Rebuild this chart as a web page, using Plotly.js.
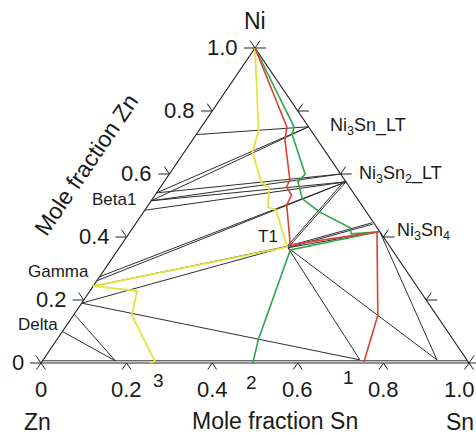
<!DOCTYPE html>
<html><head><meta charset="utf-8">
<script src="https://cdn.plot.ly/plotly-3.0.1.min.js"></script>
<style>html,body{margin:0;padding:0;background:#fff}#chart{width:476px;height:435px}</style>
</head><body><div id="chart"></div>
<script>
// Compositions given as [mole fraction Sn, mole fraction Ni]
const edgeSn = [0, 1, 0, 0];
const edgeNi = [0, 0, 1, 0];

const tickVals = [0, 0.2, 0.4, 0.6, 0.8, 1.0];
const tickText = ["0", "0.2", "0.4", "0.6", "0.8", "1.0"];

// tie lines: start (Sn, Ni) -> end (Sn, Ni)
const tieSnA = [0, 0, 0, 0, 0, 0, 0, 0, 0, 0, 0, 0, 0, 0, 0, 0.39, 0.394, 0.39, 0.394, 0.394, 0.394, 0.394, 0.583];
const tieNiA = [0.725, 0.54, 0.515, 0.54, 0.515, 0.515, 0.485, 0.274, 0.261, 0.244, 0.19, 0.19, 0.155, 0.10, 0.007, 0.37, 0.366, 0.37, 0.366, 0.366, 0.366, 0.366, 0.417];
const tieSnB = [0.25, 0.25, 0.25, 0.40, 0.40, 0.425, 0.425, 0.425, 0.425, 0.39, 0.39, 0.74, 0.17, 0.17, 0.993, 0.42, 0.425, 0.551, 0.555, 0.583, 0.74, 0.92, 0.92];
const tieNiB = [0.75, 0.75, 0.75, 0.60, 0.60, 0.575, 0.575, 0.575, 0.575, 0.37, 0.37, 0.01, 0.007, 0.007, 0.007, 0.578, 0.575, 0.445, 0.441, 0.417, 0.01, 0.01, 0.01];

// diffusion paths
const path3Sn = [0, 0.140, 0.159, 0.227, 0.255, 0.283, 0.306, 0.391, 0, 0.110, 0.136, 0.263, 0.255];
const path3Ni = [1, 0.737, 0.670, 0.575, 0.556, 0.495, 0.486, 0.368, 0.244, 0.229, 0.152, 0.006, 0];
const path1Sn = [0, 0.200, 0.216, 0.291, 0.294, 0.319, 0.323, 0.395, 0.577, 0.711, 0.753];
const path1Ni = [1, 0.749, 0.708, 0.581, 0.559, 0.533, 0.502, 0.375, 0.416, 0.152, 0.003];
const path2Sn = [0, 0.217, 0.223, 0.317, 0.313, 0.350, 0.412, 0.508, 0.520, 0.577, 0.403, 0.471, 0.494, 0.493];
const path2Ni = [1, 0.749, 0.727, 0.600, 0.575, 0.521, 0.479, 0.429, 0.410, 0.416, 0.359, 0.073, 0.003, 0];
const pathLabels = ["1", "2", "3"];

// phase labels
const phaseText = ["Ni<sub>3</sub>Sn_LT", "Ni<sub>3</sub>Sn<sub>2</sub>_LT", "Ni<sub>3</sub>Sn<sub>4</sub>", "Beta1", "Gamma", "Delta", "T1"];
const phaseSn = [0.25, 0.40, 0.583, 0, 0, 0, 0.39];
const phaseNi = [0.75, 0.60, 0.417, 0.515, 0.274, 0.155, 0.37];

const X = (sn, ni) => sn + ni / 2;
const Y = (sn, ni) => ni;

function segs(list) {
  const x = [], y = [];
  list.forEach(s => { x.push(X(s[0], s[1]), X(s[2], s[3]), null); y.push(Y(s[0], s[1]), Y(s[2], s[3]), null); });
  return {x, y};
}
function path(sn, ni) { return {x: sn.map((s, i) => X(s, ni[i])), y: sn.map((s, i) => Y(s, ni[i]))}; }

const FONT = "Liberation Sans, Arial, sans-serif";
const traces = [];

// tie lines
const tl = [];
for (let i = 0; i < tieSnA.length; i++) tl.push([tieSnA[i], tieNiA[i], tieSnB[i], tieNiB[i]]);
const tlx = segs(tl);
traces.push({type: 'scatter', mode: 'lines', x: tlx.x, y: tlx.y, line: {color: '#2e2e2e', width: 1}, hoverinfo: 'skip'});

// triangle
const tri = path(edgeSn, edgeNi);
traces.push({type: 'scatter', mode: 'lines', x: tri.x, y: tri.y, line: {color: '#222', width: 1.2}, hoverinfo: 'skip'});

// ticks
const tk = [];
const dH = 0.026, dS = 0.0236, dB = 0.021;
tickVals.forEach(v => {
  tk.push([0, v, -dH, v]); tk.push([0, v, -dS, v + dS]);            // left edge
  tk.push([v, 0, v, -dB]); tk.push([v, 0, v + dB, -dB]);             // bottom edge
  tk.push([1 - v, v, 1 - v + dH, v]); tk.push([1 - v, v, 1 - v, v + dS]); // right edge
});
const tkx = segs(tk);
traces.push({type: 'scatter', mode: 'lines', x: tkx.x, y: tkx.y, line: {color: '#222', width: 1}, hoverinfo: 'skip'});

// paths
const pY = path(path3Sn, path3Ni), pR = path(path1Sn, path1Ni), pG = path(path2Sn, path2Ni);
traces.push({type: 'scatter', mode: 'lines', x: pY.x, y: pY.y, line: {color: '#e3e33e', width: 1.8}, hoverinfo: 'skip'});
traces.push({type: 'scatter', mode: 'lines', x: pG.x, y: pG.y, line: {color: '#2ea64c', width: 1.6}, hoverinfo: 'skip'});
traces.push({type: 'scatter', mode: 'lines', x: pR.x, y: pR.y, line: {color: '#d9432e', width: 1.6}, hoverinfo: 'skip'});

const ann = [];
const A = (o) => ann.push(Object.assign({xref: 'x', yref: 'y', showarrow: false, borderpad: 0, font: {family: FONT, size: 22, color: '#1a1a1a'}}, o));

tickVals.forEach((v, i) => {
  A({x: X(0, v), y: Y(0, v), text: tickText[i], xanchor: 'right', yanchor: 'middle', xshift: -16, yshift: 1});
  const last = i === tickVals.length - 1;
  A({x: X(v, 0), y: Y(v, 0), text: tickText[i], xanchor: last ? 'right' : 'center', yanchor: 'middle', xshift: last ? 7 : 0, yshift: -26});
});

A({x: X(0, 1), y: Y(0, 1), text: 'Ni', xanchor: 'center', yanchor: 'bottom', yshift: 13, font: {family: FONT, size: 23, color: '#1a1a1a'}});
A({x: X(0, 0), y: Y(0, 0), text: 'Zn', xanchor: 'center', yanchor: 'middle', xshift: -4, yshift: -59, font: {family: FONT, size: 23, color: '#1a1a1a'}});
A({x: X(1, 0), y: Y(1, 0), text: 'Sn', xanchor: 'center', yanchor: 'middle', xshift: -9, yshift: -59, font: {family: FONT, size: 23, color: '#1a1a1a'}});
ann.push({xref: 'paper', yref: 'paper', x: 275 / 476, y: 1 - 421 / 435, text: 'Mole fraction Sn', showarrow: false, borderpad: 0, xanchor: 'center', yanchor: 'middle', font: {family: FONT, size: 23, color: '#1a1a1a'}});
ann.push({xref: 'paper', yref: 'paper', x: 86 / 476, y: 1 - 165 / 435, text: 'Mole fraction Zn', showarrow: false, borderpad: 0, xanchor: 'center', yanchor: 'middle', textangle: -55.7, font: {family: FONT, size: 23, color: '#1a1a1a'}});

// path labels near path ends
const ends = [[path1Sn, path1Ni, -15, -15], [path2Sn, path2Ni, -1, -19], [path3Sn, path3Ni, 8, -17]];
ends.forEach((e, i) => {
  const n = e[0].length - 1;
  A({x: X(e[0][n], e[1][n]), y: Y(e[0][n], e[1][n]), text: pathLabels[i], xanchor: 'center', yanchor: 'middle', xshift: e[2], yshift: e[3], font: {family: FONT, size: 19, color: '#1a1a1a'}});
});

// phase labels
const phOff = [[20, 0, 'left'], [17, 0, 'left'], [16, 0, 'left'], [-14, 1, 'right'], [-10, 5, 'right'], [-15, -10, 'right'], [-8, 10, 'right']];
phaseText.forEach((t, i) => {
  const big = i < 3;
  A({x: X(phaseSn[i], phaseNi[i]), y: Y(phaseSn[i], phaseNi[i]), text: t, xanchor: phOff[i][2], yanchor: 'middle', xshift: phOff[i][0], yshift: phOff[i][1], font: {family: FONT, size: big ? 18 : 17, color: '#1a1a1a'}});
});

const layout = {
  width: 476, height: 435, autosize: false,
  margin: {l: 0, r: 0, t: 0, b: 0},
  paper_bgcolor: '#fff', plot_bgcolor: '#fff',
  showlegend: false,
  xaxis: {range: [-41 / 428, 435 / 428], visible: false, fixedrange: true},
  yaxis: {range: [-72 / 315, 363 / 315], visible: false, fixedrange: true},
  annotations: ann
};
Plotly.newPlot('chart', traces, layout, {staticPlot: true, displayModeBar: false});
</script></body></html>
